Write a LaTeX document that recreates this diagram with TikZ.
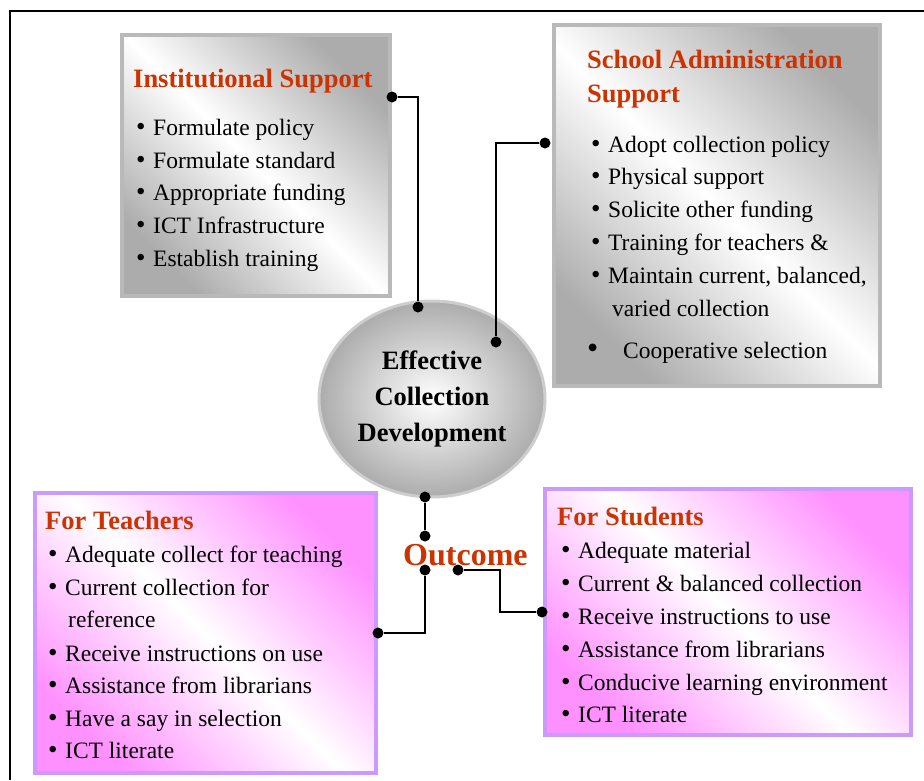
\documentclass[tikz,border=0pt]{standalone}
\usepackage{fontspec}
\setmainfont{Liberation Serif}
\usetikzlibrary{shapes.geometric}
\definecolor{headred}{RGB}{204,51,0}
\definecolor{boxgray}{RGB}{172,172,172}
\definecolor{edgegray}{RGB}{185,185,185}
\definecolor{ellgray}{RGB}{205,205,205}
\definecolor{boxpink}{RGB}{255,145,255}
\definecolor{edgepink}{RGB}{204,153,255}
\newcommand{\itembul}{\makebox[17pt][l]{\fontsize{27}{27}\selectfont\textbullet}}

\begin{document}
\begin{tikzpicture}[x=1pt, y=1pt,
  graybox/.style={rectangle, draw=edgegray, line width=4pt, left color=boxgray, right color=boxgray, middle color=white, shading angle=135, inner sep=0},
  pinkbox/.style={rectangle, draw=edgepink, line width=4pt, left color=boxpink, right color=boxpink, middle color=white, shading angle=135, inner sep=0},
  head/.style={anchor=base west, inner sep=0, text=headred, font=\fontsize{26.5}{32}\selectfont\bfseries},
  body/.style={anchor=base west, inner sep=0, font=\fontsize{23.5}{28}\selectfont},
  dot/.style={circle, fill=black, inner sep=0, minimum size=11pt},
  link/.style={line width=2pt}]
\useasboundingbox (0,0) rectangle (924,-780);
\draw[line width=2pt] (924,-11) -- (10,-11) -- (10,-780);

\node[graybox, minimum width=268pt, minimum height=261pt] (instBox) at (256,-165.5) {};
\node[graybox, minimum width=326pt, minimum height=361pt] (admBox) at (717,-205.5) {};
\node[pinkbox, minimum width=341pt, minimum height=280pt] (tchBox) at (205.5,-633) {};
\node[pinkbox, minimum width=366pt, minimum height=246pt] (stuBox) at (728,-612) {};
\node[ellipse, draw=ellgray, line width=3pt, inner color=white, outer color=boxgray, minimum width=226pt, minimum height=196pt, align=center, font=\fontsize{26.5}{36}\selectfont\bfseries] (ecd) at (432,-399) {Effective\\Collection\\Development};

\node[head] (instHead) at (133,-87) {Institutional Support};
\node[body] (inst1) at (136,-135) {\itembul Formulate policy};
\node[body] (inst2) at (136,-168) {\itembul Formulate standard};
\node[body] (inst3) at (136,-200) {\itembul Appropriate funding};
\node[body] (inst4) at (136,-233) {\itembul ICT Infrastructure};
\node[body] (inst5) at (136,-266) {\itembul Establish training};

\node[head] (admHead1) at (587,-68) {School Administration};
\node[head] (admHead2) at (587,-102) {Support};
\node[body] (adm1) at (591,-152) {\itembul Adopt collection policy};
\node[body] (adm2) at (591,-184) {\itembul Physical support};
\node[body] (adm3) at (591,-217) {\itembul Solicite other funding};
\node[body] (adm4) at (591,-250) {\itembul Training for teachers \&};
\node[body] (adm5) at (591,-283) {\itembul Maintain current, balanced,};
\node[body] (adm5b) at (612,-316) {varied collection};
\node[body] (adm6) at (587,-358) {\makebox[36pt][l]{\fontsize{32}{32}\selectfont\textbullet}Cooperative selection};

\node[head] (tchHead) at (45,-529) {For Teachers};
\node[body] (tch1) at (48,-562) {\itembul Adequate collect for teaching};
\node[body] (tch2) at (48,-595) {\itembul Current collection for};
\node[body] (tch2b) at (68,-627) {reference};
\node[body] (tch3) at (48,-661) {\itembul Receive instructions on use};
\node[body] (tch4) at (48,-693) {\itembul Assistance from librarians};
\node[body] (tch5) at (48,-726) {\itembul Have a say in selection};
\node[body] (tch6) at (48,-758) {\itembul ICT literate};

\node[head] (stuHead) at (557,-525) {For Students};
\node[body] (stu1) at (561,-558) {\itembul Adequate material};
\node[body] (stu2) at (561,-591) {\itembul Current \& balanced collection};
\node[body] (stu3) at (561,-624) {\itembul Receive instructions to use};
\node[body] (stu4) at (561,-657) {\itembul Assistance from librarians};
\node[body] (stu5) at (561,-690) {\itembul Conducive learning environment};
\node[body] (stu6) at (561,-722) {\itembul ICT literate};

\node[anchor=base west, inner sep=0, text=headred, font=\fontsize{32}{36}\selectfont\bfseries] (outcome) at (403,-565) {Outcome};

\node[dot] (instDot) at (392,-97) {};
\node[dot] (ecdTop) at (418,-307) {};
\node[dot] (admDot) at (545,-143) {};
\node[dot] (ecdRight) at (496,-342) {};
\node[dot] (ecdBot) at (425,-497) {};
\node[dot] (outTop) at (425,-536) {};
\node[dot] (outBot) at (425,-570) {};
\node[dot] (outRight) at (458,-570) {};
\node[dot] (tchDot) at (378,-633) {};
\node[dot] (stuDot) at (542,-612) {};
\coordinate (stuBend) at (500,-570);

\draw[link] (instDot) -| (ecdTop);
\draw[link] (admDot) -| (ecdRight);
\draw[link] (ecdBot) -- (outTop);
\draw[link] (outBot) |- (tchDot);
\draw[link] (outRight) -- (stuBend) |- (stuDot);

\end{tikzpicture}
\end{document}
